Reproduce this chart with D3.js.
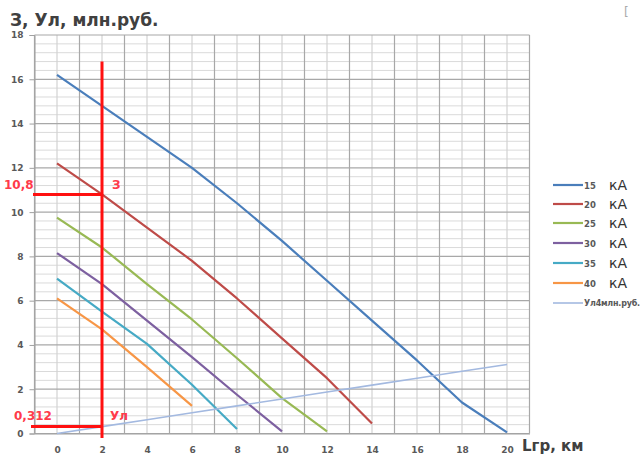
<!DOCTYPE html>
<html><head><meta charset="utf-8">
<script src="https://cdn.jsdelivr.net/npm/d3@7"></script>
<style>body{margin:0;background:#fff}svg{display:block}</style>
</head><body>
<svg id="c" width="642" height="455"></svg>
<script>
const xValues = [0,2,4,6,8,10,12,14,16,18,20];
const seriesNames = ["15","20","25","30","35","40"];
const s15 = [16.2,14.8,13.4,12.0,10.4,8.7,6.9,5.1,3.3,1.4,0.05];
const s20 = [12.2,10.8,9.3,7.8,6.1,4.3,2.5,0.45];
const s25 = [9.75,8.4,6.75,5.15,3.4,1.6,0.1];
const s30 = [8.15,6.75,5.1,3.45,1.75,0.1];
const s35 = [7.0,5.5,4.05,2.2,0.2];
const s40 = [6.1,4.7,3.0,1.25];
const sUl = [0,0.312,0.624,0.936,1.248,1.56,1.872,2.184,2.496,2.808,3.12];
const yTicks = [0,2,4,6,8,10,12,14,16,18];
const xTicks = [0,2,4,6,8,10,12,14,16,18,20];
const ulLabel = "Ул4млн.руб.";
const markX = 2, markZ = 10.8, markUl = 0.312;

const colors = ["#4a7ebb","#be4b48","#98b954","#7d60a0","#46aac5","#f79646"];
const ulColor = "#a3b9e0";

const svg = d3.select("#c");
const x = d3.scaleLinear().domain([-1,21]).range([34.5,529.5]);
const y = d3.scaleLinear().domain([0,18]).range([433.5,35]);

// grid
const g = svg.append("g");
const minorY = d3.range(0,18.001,0.4).filter(v=>Math.abs(v/2-Math.round(v/2))>1e-6);
g.selectAll(".hm").data(minorY).join("line")
  .attr("x1",x(-1)).attr("x2",x(21)).attr("y1",d=>y(d)).attr("y2",d=>y(d))
  .attr("stroke","#dadada").attr("stroke-width",1);
g.selectAll(".vm").data(d3.range(0,21,2)).join("line")
  .attr("y1",y(0)).attr("y2",y(18)).attr("x1",d=>x(d)).attr("x2",d=>x(d))
  .attr("stroke","#d2d2d2").attr("stroke-width",1.2);
g.selectAll(".hM").data(yTicks).join("line")
  .attr("x1",x(-1)).attr("x2",x(21)).attr("y1",d=>y(d)).attr("y2",d=>y(d))
  .attr("stroke","#a8a8a8").attr("stroke-width",1.2);
g.selectAll(".vM").data(d3.range(-1,22,2)).join("line")
  .attr("y1",y(0)).attr("y2",y(18)).attr("x1",d=>x(d)).attr("x2",d=>x(d))
  .attr("stroke","#a8a8a8").attr("stroke-width",1.2);

// axes
const yAx = svg.append("g").attr("transform",`translate(${x(-1)},0)`)
  .call(d3.axisLeft(y).tickValues(yTicks).tickSize(5).tickPadding(6));
const xAx = svg.append("g").attr("transform",`translate(0,${y(0)})`)
  .call(d3.axisBottom(x).tickValues(xTicks).tickSize(0).tickPadding(13));
[yAx,xAx].forEach(a=>{
  a.select(".domain").attr("stroke","#a0a0a0");
  a.selectAll(".tick line").attr("stroke","#a0a0a0");
  a.selectAll("text").attr("font-family","DejaVu Sans").attr("font-size","9px")
    .attr("font-weight","bold").attr("fill","#595959");
});

// series
const line = d3.line().x((d,i)=>x(xValues[i])).y(d=>y(d));
const all = [s15,s20,s25,s30,s35,s40];
all.forEach((s,i)=>{
  svg.append("path").attr("d",line(s)).attr("fill","none")
    .attr("stroke",colors[i]).attr("stroke-width",2.2).attr("stroke-linejoin","round");
});
svg.append("path").attr("d",line(sUl)).attr("fill","none")
  .attr("stroke",ulColor).attr("stroke-width",1.6);

// red annotation
const red = "#ff1010";
svg.append("line").attr("x1",x(markX)).attr("x2",x(markX)).attr("y1",y(-0.2)).attr("y2",y(16.8))
  .attr("stroke",red).attr("stroke-width",3);
svg.append("line").attr("x1",33).attr("x2",x(markX)).attr("y1",y(markZ)).attr("y2",y(markZ))
  .attr("stroke",red).attr("stroke-width",3);
svg.append("line").attr("x1",31).attr("x2",x(markX)).attr("y1",y(markUl)).attr("y2",y(markUl))
  .attr("stroke",red).attr("stroke-width",3);
const rt = (t,xx,yy)=>svg.append("text").text(t).attr("x",xx).attr("y",yy)
  .attr("font-family","DejaVu Sans").attr("font-weight","bold").attr("font-size","12px").attr("fill","#ff3a4a");
rt("10,8",4,189);
rt("З",x(markX)+10,189);
rt("0,312",14,420);
rt("Ул",x(markX)+8,420);

// titles
svg.append("text").text("З, Ул, млн.руб.").attr("x",10).attr("y",26)
  .attr("font-family","DejaVu Sans").attr("font-weight","bold").attr("font-size","17px").attr("fill","#404040");
svg.append("text").text("Lгр, км").attr("x",522).attr("y",451)
  .attr("font-family","DejaVu Sans").attr("font-weight","bold").attr("font-size","15px").attr("fill","#404040");
svg.append("text").text("[").attr("x",624).attr("y",16)
  .attr("font-family","DejaVu Sans").attr("font-size","12px").attr("fill","#aaa");

// legend
const ly = [185,204,223,243,263,283];
seriesNames.forEach((n,i)=>{
  const gg = svg.append("g").attr("transform",`translate(553,${ly[i]})`);
  gg.append("line").attr("x1",0).attr("x2",30).attr("stroke",colors[i]).attr("stroke-width",2.2);
  gg.append("text").text(n).attr("x",31).attr("y",3.5).attr("font-family","DejaVu Sans")
    .attr("font-weight","bold").attr("font-size","8.5px").attr("fill","#595959");
  gg.append("text").text("кА").attr("x",56).attr("y",5).attr("font-family","DejaVu Sans")
    .attr("font-size","14px").attr("fill","#333");
});
const lu = svg.append("g").attr("transform","translate(553,303)");
lu.append("line").attr("x1",0).attr("x2",30).attr("stroke",ulColor).attr("stroke-width",1.6);
lu.append("text").text(ulLabel).attr("x",31).attr("y",3).attr("font-family","DejaVu Sans")
  .attr("font-weight","bold").attr("font-size","8px").attr("letter-spacing","-0.2px").attr("fill","#595959");
</script>
</body></html>
